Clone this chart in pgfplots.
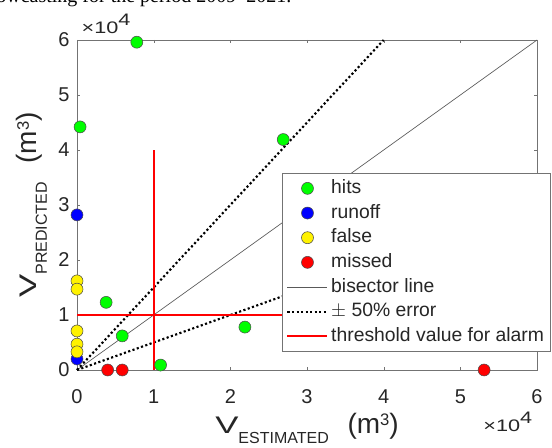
\documentclass[border=0pt]{standalone}
\usepackage{fontspec}
\setmainfont{Liberation Sans}
\newfontfamily\captionserif{Liberation Serif}
\usepackage{pgfplots}
\pgfplotsset{compat=1.18}
\definecolor{axgray}{gray}{0.45}
\definecolor{txtgray}{gray}{0.15}
\newcommand\bigV{\scalebox{1.45}[1]{V}}
\newcommand\subs[1]{\lower7.5pt\hbox{\fontsize{12}{13}\selectfont #1}}
\newcommand\unit{{\fontsize{21}{23}\selectfont (m\raise6pt\hbox{\fontsize{12.5}{13}\selectfont 3})}}
\newcommand\xten{\scalebox{1.3}[1]{×10\raise6pt\hbox{4}}}
\pgfplotsset{
  lineleg/.style={legend image code/.code={\draw[##1] (0pt,0pt) -- (30pt,0pt);}},
  markleg/.style={legend image code/.code={\draw[##1] plot coordinates {(15pt,0pt)};}},
  scat/.style={only marks, mark=*, mark size=4.5pt,
    mark options={fill=#1, draw=black!70, line width=0.4pt}, markleg},
}

\begin{document}
\begin{tikzpicture}
\useasboundingbox (-57.75pt,-58.5pt) rectangle (356.25pt,277.5pt);
\begin{scope}
\clip (-57.75pt,-58.5pt) rectangle (356.25pt,277.5pt);
\begin{axis}[
  at={(0pt,0pt)}, anchor=south west,
  scale only axis, width=345pt, height=247.5pt,
  xmin=0, xmax=6, ymin=0, ymax=6,
  xtick={0,...,6}, ytick={0,...,6},
  clip=false,
  tick align=inside, major tick length=2.5pt,
  axis line style={axgray}, tick style={axgray},
  ticklabel style={font=\fontsize{15}{17}\selectfont, text=txtgray},
  /pgf/number format/assume math mode=true,
  xticklabel style={yshift=-11pt},
  yticklabel style={xshift=-2pt},
  xlabel={\bigV\subs{ESTIMATED}\hspace{14pt}\unit},
  ylabel={\bigV\subs{PREDICTED}\hspace{14pt}\unit},
  label style={font=\fontsize{18}{20}\selectfont, text=txtgray},
  xlabel style={at={(rel axis cs:0.5,0)}, anchor=base, yshift=-48pt},
  ylabel style={at={(rel axis cs:0,0.5)}, anchor=base, yshift=30pt},
  legend style={at={(axis cs:2.676,3.58)}, anchor=north west,
    draw=axgray, fill=white, text=txtgray,
    font=\fontsize{14.5}{16}\selectfont, row sep=0pt,
    nodes={inner sep=2pt, text height=11pt, text depth=3.5pt}},
  legend cell align=left,
]
% hits
\addplot[scat=green]
  coordinates {(0.78,5.96) (0.04,4.42) (2.69,4.19) (0.38,1.23) (0.59,0.62) (2.19,0.78) (1.09,0.09)};
% runoff
\addplot[scat=blue] coordinates {(0,2.82) (0,0.2)};
% false
\addplot[scat=yellow] coordinates {(0,1.62) (0,1.47) (0,0.71) (0,0.47) (0,0.33)};
% missed
\addplot[scat=red] coordinates {(0.40,0) (0.59,0) (5.31,0)};
% bisector
\addplot[black!65, line width=0.5pt, no marks, lineleg] coordinates {(0,0) (6,6)};
% +-50% error
\addplot[black, line width=1.6pt, dash pattern=on 1.6pt off 1.8pt, no marks, lineleg]
  coordinates {(0,0) (4,6)};
\addplot[black, line width=1.6pt, dash pattern=on 1.6pt off 1.8pt, no marks, forget plot]
  coordinates {(0,0) (6,3)};
% threshold
\addplot[red, line width=1.4pt, no marks, lineleg] coordinates {(1,0) (1,4)};
\addplot[red, line width=1.4pt, no marks, forget plot] coordinates {(0,1) (4,1)};
\legend{hits, runoff, false, missed, bisector line, $\pm$ 50\% error, threshold value for alarm}
\node[anchor=base west, font=\fontsize{12.5}{14}\selectfont, text=txtgray, yshift=5pt]
  at (rel axis cs:0,1) {\xten};
\node[anchor=base east, font=\fontsize{12.5}{14}\selectfont, text=txtgray, yshift=-46.5pt]
  at (rel axis cs:1,0) {\xten};
\end{axis}
\node[anchor=base east, font=\captionserif\fontsize{15}{17}\selectfont]
  at (164.25pt,275.25pt) {nowcasting for the period 2009–2021.};
\end{scope}
\end{tikzpicture}
\end{document}
